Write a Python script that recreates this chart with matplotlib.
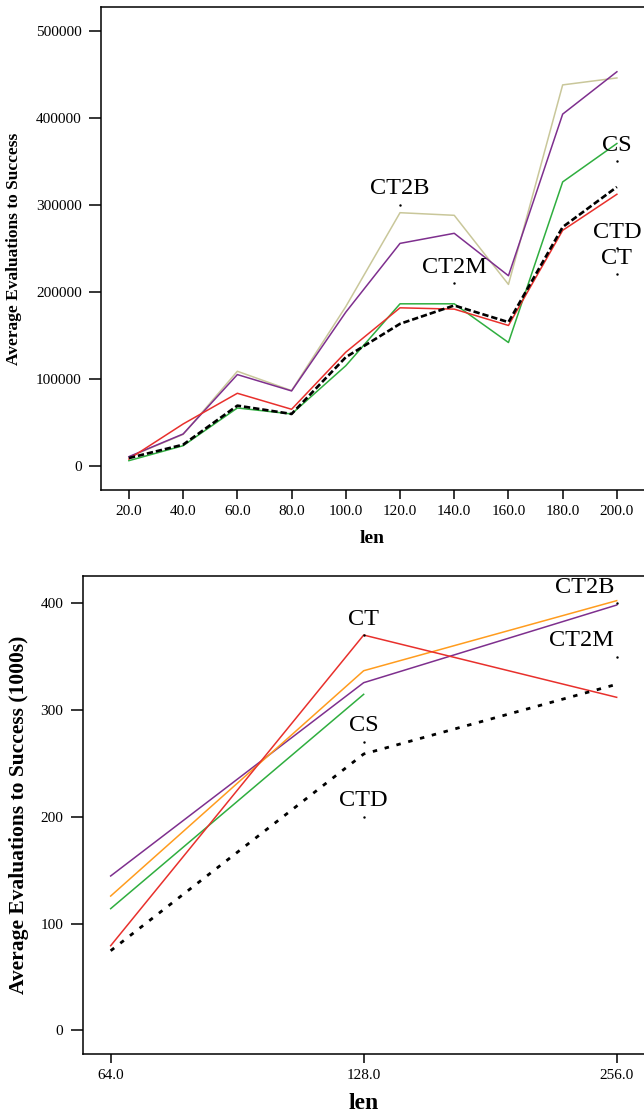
import matplotlib
matplotlib.use("Agg")
import matplotlib.pyplot as plt
from matplotlib.ticker import FixedLocator, FuncFormatter, NullLocator

plt.rcParams["font.family"] = ["Liberation Serif", "DejaVu Serif"]

# top panel: evaluations vs len
len_top = [20, 40, 60, 80, 100, 120, 140, 160, 180, 200]
ct2b_top = [10000, 36000, 108600, 86400, 183000, 291000, 288000, 208500, 438000, 446000]
ct2m_top = [10400, 36500, 104800, 86000, 176600, 255700, 267300, 218500, 404400, 453100]
cs_top = [5800, 23000, 66400, 59500, 115000, 186200, 186200, 141700, 326400, 370600]
ct_top = [7700, 48000, 83300, 64900, 130600, 181600, 180100, 161300, 270700, 312200]
ctd_top = [8800, 24200, 69100, 59500, 124800, 163200, 184300, 165100, 274500, 320600]

top_label_names = ["CT2B", "CT2M", "CS", "CTD", "CT"]
top_label_x = [120, 140, 200, 200, 200]
top_label_y = [300000, 210000, 350000, 250000, 220000]

# bottom panel: evaluations (1000s) vs len
len_bot = [64, 128, 256]
ct2m_bot = [144.5, 325.5, 398.2]
ct2b_bot = [125.7, 336.7, 402.3]
cs_bot = [113.9, 314.6]
ct_bot = [79.2, 370.1, 311.8]
ctd_bot = [74.5, 258.7, 324.0]

bot_label_names = ["CT2B", "CT2M", "CT", "CS", "CTD"]
bot_label_x = [256, 256, 128, 128, 128]
bot_label_y = [400, 350, 370, 270, 200]
bot_label_ha = ["right", "right", "center", "center", "center"]

KHAKI = "#c9c79a"
PURPLE = "#7e2f8e"
GREEN = "#2fae3f"
RED = "#e8302c"
ORANGE = "#ff9c1e"

W, H = 644, 1113
fig = plt.figure(figsize=(W / 100, H / 100), dpi=100)

ax1 = fig.add_axes([101 / W, 1 - 490 / H, 1 - 101 / W, (490 - 7) / H])
ax2 = fig.add_axes([82.7 / W, 1 - 1054 / H, 1 - 82.7 / W, (1054 - 576) / H])


def style(ax):
    for side in ("left", "bottom", "top"):
        ax.spines[side].set_linewidth(1.1)
    ax.spines["right"].set_visible(False)
    ax.tick_params(axis="y", direction="out", length=8.4, width=1.1, pad=5.5,
                   labelsize=11)
    ax.tick_params(axis="x", direction="out", length=6.5, width=1.1, pad=4,
                   labelsize=11)
    ax.tick_params(top=False, right=False)


# top
ax1.plot(len_top, ct2b_top, color=KHAKI, lw=1.1)
ax1.plot(len_top, ct2m_top, color=PURPLE, lw=1.1)
ax1.plot(len_top, cs_top, color=GREEN, lw=1.1)
ax1.plot(len_top, ct_top, color=RED, lw=1.1)
ax1.plot(len_top, ctd_top, color="black", lw=1.9, dashes=(2.4, 1.1))
for name, x, y in zip(top_label_names, top_label_x, top_label_y):
    ax1.plot(x, y, marker=".", ms=1.5, color="black")
    ax1.annotate(name, (x, y), xytext=(0, 4), textcoords="offset points",
                 ha="center", va="bottom", fontsize=17.5)
ax1.set_xlim(9.7, 210)
ax1.set_ylim(-27950, 527600)
ax1.xaxis.set_major_locator(FixedLocator(len_top))
ax1.xaxis.set_major_formatter(FuncFormatter(lambda v, p: f"{v:.1f}"))
ax1.yaxis.set_major_locator(FixedLocator([0, 100000, 200000, 300000, 400000, 500000]))
ax1.yaxis.set_major_formatter(FuncFormatter(lambda v, p: f"{v:.0f}"))
style(ax1)
ax1.set_xlabel("len", fontsize=14, fontweight="bold", labelpad=9)
ax1.set_ylabel("Average Evaluations to Success", fontsize=12.5, fontweight="bold")
ax1.yaxis.set_label_coords(-(101 - 22) / (W - 101), 0.5)

# bottom
ax2.plot(len_bot, ct2m_bot, color=PURPLE, lw=1.1)
ax2.plot(len_bot, ct2b_bot, color=ORANGE, lw=1.1)
ax2.plot(len_bot[:2], cs_bot, color=GREEN, lw=1.1)
ax2.plot(len_bot, ct_bot, color=RED, lw=1.1)
ax2.plot(len_bot, ctd_bot, color="black", lw=2.0, dashes=(1.6, 2.8))
for name, x, y, ha in zip(bot_label_names, bot_label_x, bot_label_y, bot_label_ha):
    ax2.plot(x, y, marker=".", ms=1.5, color="black")
    ax2.annotate(name, (x, y), xytext=(-2 if ha == "right" else 0, 4),
                 textcoords="offset points", ha=ha, va="bottom", fontsize=17.5)
ax2.set_xscale("log", base=2)
ax2.set_xlim(59.28, 275.9)
ax2.set_ylim(-22.2, 425.4)
ax2.xaxis.set_major_locator(FixedLocator(len_bot))
ax2.xaxis.set_minor_locator(NullLocator())
ax2.xaxis.set_major_formatter(FuncFormatter(lambda v, p: f"{v:.1f}"))
ax2.yaxis.set_major_locator(FixedLocator([0, 100, 200, 300, 400]))
ax2.yaxis.set_major_formatter(FuncFormatter(lambda v, p: f"{v:.0f}"))
style(ax2)
ax2.set_xlabel("len", fontsize=17, fontweight="bold", labelpad=8)
ax2.set_ylabel("Average Evaluations to Success (1000s)", fontsize=15.5,
               fontweight="bold")
ax2.yaxis.set_label_coords(-(82.7 - 29) / (W - 82.7), 0.5)

fig.savefig("out.png", dpi=100)
